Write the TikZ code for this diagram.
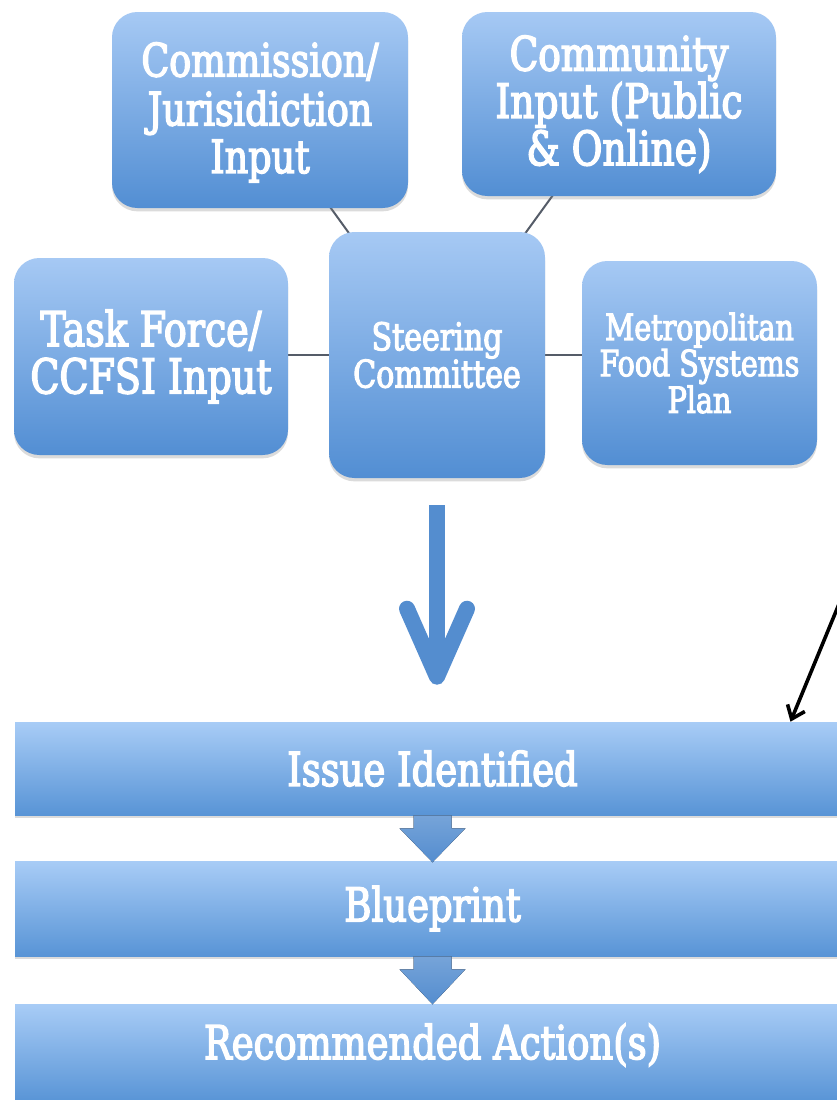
\documentclass[tikz,border=0pt]{standalone}
\usepackage{fontspec}
\setmainfont{DejaVu Serif Condensed}[FakeStretch=0.88,FakeBold=3]
\usetikzlibrary{calc,shadows,arrows.meta}
\pgfdeclarelayer{bg}
\pgfdeclarelayer{lines}
\pgfsetlayers{bg,lines,main}
\definecolor{boxtop}{RGB}{166,201,244}
\definecolor{boxbot}{RGB}{82,142,211}
\definecolor{bartop}{RGB}{168,204,246}
\definecolor{barbot}{RGB}{88,148,214}
\definecolor{arrowblue}{RGB}{84,141,207}
\definecolor{linegray}{RGB}{85,92,104}
\begin{document}
\begin{tikzpicture}[x=0.75pt,y=-0.75pt,
  box/.style={rounded corners=19pt, top color=boxtop, bottom color=boxbot,
    text=white, align=center, inner sep=0pt,
    drop shadow={shadow xshift=0pt,shadow yshift=-2.5pt,opacity=0.28}},
  bar/.style={top color=bartop, bottom color=barbot, text=white, inner sep=0pt,
    minimum width=626.25pt, font=\fontsize{35}{38}\selectfont,
    drop shadow={shadow xshift=0pt,shadow yshift=-2.5pt,opacity=0.28}},
  link/.style={draw=linegray, line width=1.5pt},
  bigshaft/.style={draw=arrowblue, line width=12.5pt, line cap=butt},
  bigbarb/.style={draw=arrowblue, line width=12pt, line cap=round, line join=round},
  blockarrow/.style={top color=arrowblue!80!white, bottom color=arrowblue, draw=none},
  pointer/.style={draw=black, line width=2.7pt, -{Straight Barb[length=9pt,width=14pt]}}
]
\useasboundingbox (0,0) rectangle (837,1100);
\begin{pgfonlayer}{bg}
\fill[white] (0,0) rectangle (837,1100);
\end{pgfonlayer}

\node[box, minimum width=222pt, minimum height=147pt, font=\fontsize{34.5}{35}\selectfont] (comm) at (260,110) {\raisebox{-3.5pt}[\height][\depth]{\begin{tabular}{@{}c@{}}Commission/\\Jurisidiction\\Input\end{tabular}}};
\node[box, minimum width=235.5pt, minimum height=138pt, font=\fontsize{35.5}{35.5}\selectfont] (cmty) at (619,104) {Community\\Input (Public\\\& Online)};
\node[box, minimum width=205.5pt, minimum height=147.75pt, font=\fontsize{36}{35.5}\selectfont] (task) at (151,356.5) {Task Force/\\CCFSI Input};
\node[box, minimum width=162pt, minimum height=184.5pt, font=\fontsize{28.5}{28}\selectfont] (steer) at (437,355) {Steering\\Committee};
\node[box, minimum width=176.25pt, minimum height=153pt, font=\fontsize{27}{25.5}\selectfont] (metro) at (699.5,363) {Metropolitan\\Food Systems\\Plan};

\begin{pgfonlayer}{lines}
\draw[link] (comm.center) -- (steer.center);
\draw[link] (cmty.center) -- (steer.center);
\draw[link] (task.center |- steer.center) -- (steer.center);
\draw[link] (steer.center) -- (steer.center -| metro.center);
\end{pgfonlayer}

\node[bar, minimum height=69.75pt] (issue) at (432.5,768.5) {Issue Identified};
\node[bar, minimum height=71.25pt] (blue) at (432.5,908.5) {Blueprint};
\node[bar, minimum height=73.5pt] (rec) at (432.5,1053) {\raisebox{6pt}[\height][\depth]{Recommended Action(s)}};

% big arrow from steering committee down to the issue bar
\coordinate (bigtop) at ($(steer.south)+(0,27)$);
\coordinate (bigtip) at ($(steer.south |- issue.north)+(0,-45)$);
\draw[bigshaft] (bigtop) -- ($(bigtip)+(0,-12)$);
\draw[bigbarb] ($(bigtip)+(-30,-68)$) -- (bigtip) -- ($(bigtip)+(30,-68)$);

% block arrows between bars
\fill[blockarrow] ($(issue.south)+(-19,0)$) -- ($(issue.south)+(19,0)$) -- ($(issue.south)+(19,13)$) -- ($(issue.south)+(33,13)$) -- ($(issue.south)+(0,47)$) -- ($(issue.south)+(-33,13)$) -- ($(issue.south)+(-19,13)$) -- cycle;
\fill[blockarrow] ($(blue.south)+(-19,0)$) -- ($(blue.south)+(19,0)$) -- ($(blue.south)+(19,13)$) -- ($(blue.south)+(33,13)$) -- ($(blue.south)+(0,48)$) -- ($(blue.south)+(-33,13)$) -- ($(blue.south)+(-19,13)$) -- cycle;

% black pointer arrow
\coordinate (ptrstart) at (839,604);
\draw[pointer] (ptrstart) -- ($(issue.north)+(358,0)$);
\end{tikzpicture}
\end{document}
